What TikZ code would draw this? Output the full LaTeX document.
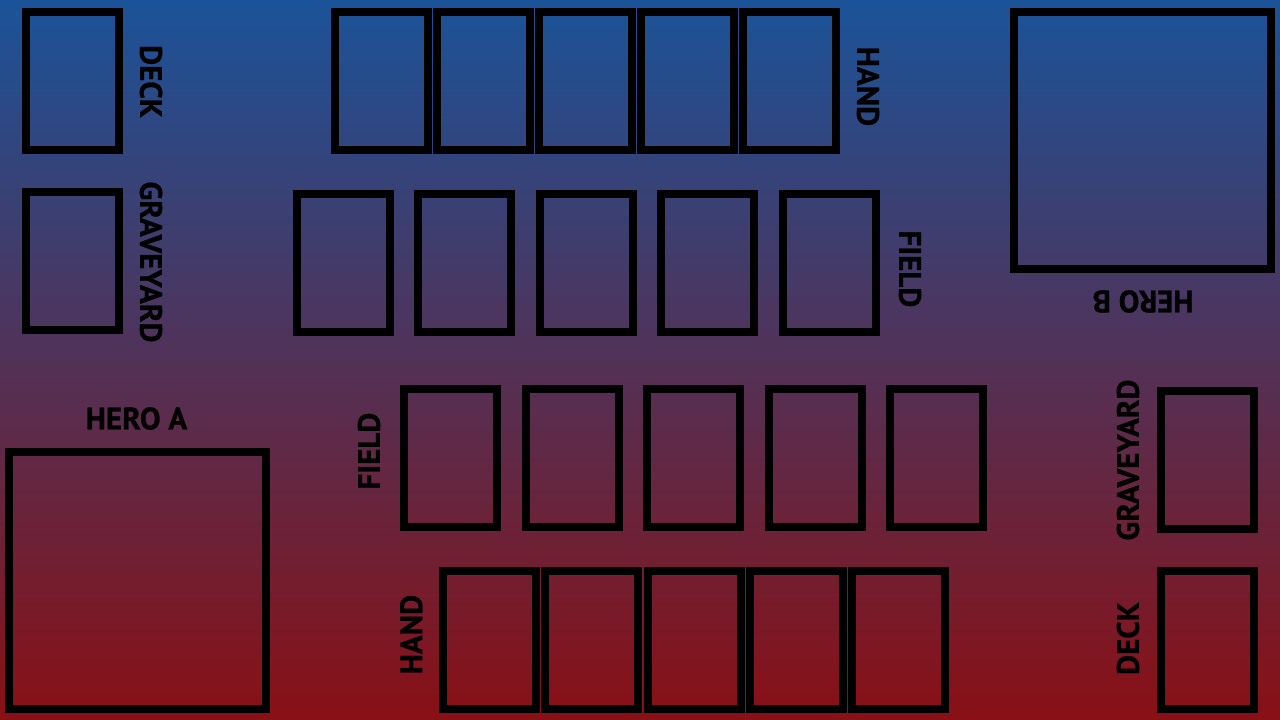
\documentclass[tikz,border=0pt]{standalone}
\usepackage{fontspec}
\setmainfont[BoldFeatures={FakeBold=0.8}]{PT Sans}
\definecolor{topblue}{RGB}{27,83,153}
\definecolor{midc}{RGB}{76,51,94}
\definecolor{botred}{RGB}{137,16,21}
\begin{document}
\begin{tikzpicture}[x=1pt,y=-1pt,
  card/.style={draw=black, line width=8pt, minimum width=93pt, minimum height=138pt, inner sep=0pt},
  hero/.style={draw=black, line width=8pt, minimum width=256.7pt, minimum height=256.7pt, inner sep=0pt},
  lbl/.style={font=\bfseries\fontsize{31}{31}\selectfont, inner sep=0pt, text=black}]
\useasboundingbox (0,0) rectangle (1280,720);
\shade[top color=topblue, middle color=midc, bottom color=botred] (0,0) rectangle (1280,720);
% player B (top)
\node[card] (deckB) at (72.5,81) {};
\node[card] (graveB) at (72.5,261) {};
\node[lbl, rotate=-90] (deckBl) at (151,81.5) {DECK};
\node[lbl, rotate=-90] (graveBl) at (151,262) {GRAVEYARD};
\foreach \i/\x in {1/381.5,2/483.5,3/585.5,4/687.5,5/789.5}
  \node[card] (handB\i) at (\x,81) {};
\node[lbl, rotate=-90] (handBl) at (868,86.5) {HAND};
\foreach \i/\x in {1/343.5,2/464.5,3/586.5,4/707.5,5/829.5}
  \node[card] (fieldB\i) at (\x,263) {};
\node[lbl, rotate=-90] (fieldBl) at (910,269) {FIELD};
\node[hero] (heroB) at (1142.3,140.3) {};
\node[lbl, rotate=180] (heroBl) at (1143,301.5) {HERO B};
% player A (bottom)
\node[hero] (heroA) at (137.3,580.3) {};
\node[lbl] (heroAl) at (136.5,418.5) {HERO A};
\foreach \i/\x in {1/450.5,2/572.5,3/693.5,4/815.5,5/936.5}
  \node[card] (fieldA\i) at (\x,458) {};
\node[lbl, rotate=90] (fieldAl) at (369,451) {FIELD};
\foreach \i/\x in {1/489.5,2/591.5,3/694,4/796.5,5/898.5}
  \node[card] (handA\i) at (\x,640) {};
\node[lbl, rotate=90] (handAl) at (411.3,634.5) {HAND};
\node[card] (graveA) at (1207.5,460) {};
\node[card] (deckA) at (1207.5,640) {};
\node[lbl, rotate=90] (graveAl) at (1128,460) {GRAVEYARD};
\node[lbl, rotate=90] (deckAl) at (1128,638.5) {DECK};
\end{tikzpicture}
\end{document}
